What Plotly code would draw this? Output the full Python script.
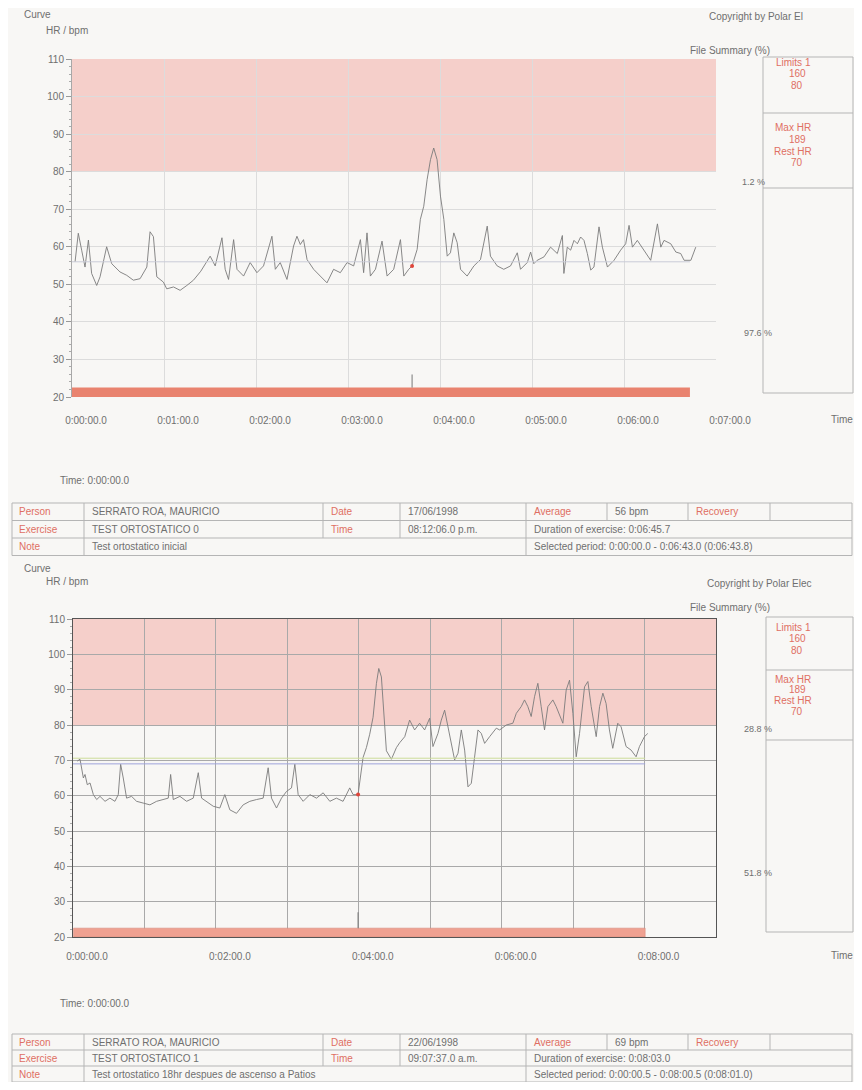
import plotly.graph_objects as go

REF_W, REF_H = 862, 1090
OFF = 8                      # the page body margin of the browser
W, H = REF_W - 2 * OFF, REF_H - 2 * OFF
FONT = "Liberation Sans, Arial, sans-serif"
GRAY = "#6f6f6f"
RED = "#df6f63"

# ---------------- data ----------------
# Chart 1: TEST ORTOSTATICO 0  (time in seconds, heart rate in bpm)
t1 = [2.0, 4.1, 6.3, 8.5, 10.7, 12.8, 16.1, 18.3, 22.6, 25.9, 31.3, 35.7, 40.0, 44.4, 48.8,
      50.9, 53.1, 55.3, 59.6, 61.8, 66.2, 70.5, 74.9, 79.2, 84.0, 90.1, 93.4, 97.8, 99.9,
      102.1, 105.4, 107.6, 111.9, 116.2, 120.6, 124.9, 130.4, 132.6, 135.8, 140.2, 144.5,
      146.7, 148.9, 151.0, 153.3, 157.6, 161.9, 166.3, 170.6, 175.0, 179.4, 183.7, 188.1,
      190.2, 192.4, 194.6, 197.9, 202.2, 205.5, 209.8, 214.2, 216.4, 219.6, 221.8, 225.1,
      227.2, 229.4, 231.6, 233.8, 235.9, 238.1, 240.3, 242.5, 244.7, 246.8, 249.0, 251.2,
      253.4, 257.7, 262.1, 266.4, 270.8, 272.9, 277.3, 281.6, 286.0, 290.4, 292.5, 296.9,
      299.1, 301.2, 303.4, 307.8, 312.1, 316.5, 319.8, 320.8, 323.0, 325.2, 327.4, 329.6,
      331.7, 333.9, 336.1, 338.3, 340.4, 343.7, 345.9, 349.2, 353.5, 357.8, 361.1, 363.3,
      365.5, 368.7, 373.1, 377.4, 381.8, 384.0, 386.1, 390.5, 393.8, 397.0, 399.2, 403.6,
      406.8]
hr1 = [56.0, 63.6, 59.1, 54.6, 61.8, 52.9, 49.7, 52.0, 60.0, 55.5, 53.3, 52.4, 51.1, 51.5, 54.6,
       64.0, 62.7, 52.0, 50.6, 48.8, 49.3, 48.4, 49.7, 51.1, 53.5, 57.5, 54.9, 62.4, 54.0,
       51.3, 61.9, 54.0, 52.2, 55.8, 53.1, 54.9, 62.8, 54.0, 55.8, 51.3, 60.2,
       62.8, 60.6, 61.9, 56.6, 54.0, 52.2, 50.4, 54.0, 53.1, 55.8, 54.9, 61.9,
       53.1, 63.7, 52.2, 54.0, 61.5, 52.2, 54.0, 61.9, 52.2, 54.0, 54.9, 59.3,
       67.3, 70.8, 77.9, 83.2, 86.3, 83.2, 73.5, 67.3, 57.5, 58.4, 63.7, 61.1,
       54.0, 52.2, 54.9, 56.6, 65.5, 57.5, 54.9, 54.0, 54.9, 58.4, 54.0, 55.8,
       58.6, 55.5, 56.4, 57.3, 59.9, 58.2, 63.0, 52.9, 59.9, 59.1, 61.7, 60.8,
       62.6, 61.7, 58.2, 53.8, 54.6, 65.3, 59.9, 54.6, 56.4, 59.1, 60.8, 65.7,
       59.9, 61.7, 59.1, 56.4, 66.1, 59.9, 61.7, 60.8, 58.6, 58.2, 56.4, 56.4,
       59.9]

# Chart 2: TEST ORTOSTATICO 1
t2 = [3.6, 5.9, 8.7, 10.1, 12.0, 14.3, 17.1, 19.9, 22.7, 26.9, 31.0, 35.2, 38.0, 40.0, 42.2,
      45.0, 49.2, 53.4, 59.0, 64.6, 70.2, 75.8, 80.0, 82.0, 84.2, 89.8, 95.4, 101.0, 105.2,
      108.0, 112.2, 117.8, 123.3, 127.5, 131.7, 137.3, 142.9, 148.5, 154.1, 159.7, 163.9,
      166.7, 170.9, 175.1, 179.3, 183.5, 186.3, 189.1, 193.3, 198.9, 204.5, 210.1, 215.7,
      221.2, 226.8, 232.4, 235.2, 239.4, 243.6, 246.4, 249.2, 252.0, 254.8, 256.8, 259.0,
      261.8, 263.2, 267.4, 271.6, 274.4, 278.6, 282.7, 286.9, 291.1, 295.3, 299.5, 302.3,
      306.5, 309.3, 312.1, 316.3, 320.5, 323.3, 326.1, 328.9, 331.7, 334.5, 337.3, 340.1,
      342.9, 345.7, 349.9, 355.5, 358.3, 363.9, 369.4, 372.3, 376.4, 379.2, 382.0, 384.8,
      387.6, 390.4, 393.2, 396.0, 398.8, 403.0, 405.8, 411.4, 414.2, 417.0, 419.8, 422.6,
      425.4, 429.6, 432.4, 435.2, 439.4, 442.2, 445.0, 447.7, 450.5, 453.3, 457.5, 460.3,
      464.5, 468.7, 472.9, 475.7, 479.9, 482.7]
hr2 = [69.8, 70.3, 65.0, 66.0, 63.1, 63.6, 60.3, 58.9, 59.8, 58.4, 59.3, 58.4, 60.3, 68.9, 65.0,
       59.3, 59.8, 58.4, 57.9, 57.4, 58.4, 58.9, 59.3, 66.0, 58.9, 59.8, 58.4, 59.3, 66.5,
       59.3, 58.4, 57.0, 56.5, 60.3, 56.0, 55.0, 57.4, 58.4, 58.9, 59.3, 67.9,
       59.3, 56.5, 59.3, 61.2, 62.2, 68.9, 60.3, 58.4, 60.3, 59.3, 60.8, 58.4,
       59.3, 58.4, 62.2, 60.3, 60.3, 70.8, 73.6, 77.4, 82.2, 91.7, 96.0, 93.6,
       81.2, 72.7, 70.3, 73.6, 75.0, 76.7, 81.4, 78.6, 80.5, 78.6, 81.9, 73.9,
       77.6, 81.4, 84.2, 76.7, 70.1, 72.0, 78.6, 72.9, 62.5, 63.5, 72.0, 78.6,
       77.6, 74.8, 76.7, 79.1, 78.6, 80.0, 80.5, 83.3, 85.2, 87.1, 85.2, 82.4,
       88.0, 91.8, 85.2, 78.6, 85.2, 87.1, 85.2, 80.5, 89.9, 92.7, 83.3, 71.0,
       77.6, 90.8, 92.3, 85.2, 76.7, 85.2, 89.0, 86.1, 78.6, 73.4, 80.5, 79.5,
       73.9, 72.9, 71.0, 73.9, 76.7, 77.6]

y_ticks = [20, 30, 40, 50, 60, 70, 80, 90, 100, 110]
x1_ticks = [0, 60, 120, 180, 240, 300, 360, 420]
x1_labels = ["0:00:00.0", "0:01:00.0", "0:02:00.0", "0:03:00.0",
             "0:04:00.0", "0:05:00.0", "0:06:00.0", "0:07:00.0"]
x2_ticks = [0, 60, 120, 180, 240, 300, 360, 420, 480, 540]
x2_labels = ["0:00:00.0", "", "0:02:00.0", "", "0:04:00.0", "", "0:06:00.0", "", "0:08:00.0", ""]

limit_low, limit_high = 80, 160
max_hr, rest_hr = 189, 70
avg1, avg2 = 56, 69
sel1 = (0.0, 403.0)
sel2 = (0.5, 480.5)
lap1, lap2 = 221.8, 239.4
pct1 = ["1.2 %", "97.6 %"]
pct2 = ["28.8 %", "51.8 %"]

table1 = dict(person="SERRATO ROA, MAURICIO", date="17/06/1998", average="56 bpm",
              exercise="TEST ORTOSTATICO 0", time="08:12:06.0 p.m.",
              duration="Duration of exercise: 0:06:45.7",
              note="Test ortostatico inicial",
              selected="Selected period: 0:00:00.0 - 0:06:43.0 (0:06:43.8)")
table2 = dict(person="SERRATO ROA, MAURICIO", date="22/06/1998", average="69 bpm",
              exercise="TEST ORTOSTATICO 1", time="09:07:37.0 a.m.",
              duration="Duration of exercise: 0:08:03.0",
              note="Test ortostatico 18hr despues de ascenso a Patios",
              selected="Selected period: 0:00:00.5 - 0:08:00.5 (0:08:01.0)")

# ---------------- helpers (reference pixels -> paper fractions) ----------------
def X(px):
    return (px - OFF) / W

def Y(py):
    return 1 - (py - OFF) / H

ann = []
shapes = []

def txt(s, x, y, size=10, color=GRAY, anchor="left"):
    ann.append(dict(text=s, x=X(x), y=Y(y), xref="paper", yref="paper", xanchor=anchor,
                    yanchor="middle", showarrow=False,
                    font=dict(size=size, color=color, family=FONT)))

def pline(x0, y0, x1, y1, color="#b5b5b5", width=1):
    shapes.append(dict(type="line", xref="paper", yref="paper", x0=X(x0), y0=Y(y0),
                       x1=X(x1), y1=Y(y1), line=dict(color=color, width=width)))

def prect(x0, y0, x1, y1, color="#b5b5b5", fill="rgba(0,0,0,0)", width=1):
    shapes.append(dict(type="rect", xref="paper", yref="paper", x0=X(x0), y0=Y(y0),
                       x1=X(x1), y1=Y(y1), line=dict(color=color, width=width), fillcolor=fill))

fig = go.Figure()

# ---------------- traces ----------------
fig.add_trace(go.Scatter(x=t1, y=hr1, mode="lines", line=dict(color="#7a7a7a", width=0.9),
                         xaxis="x", yaxis="y", showlegend=False, hoverinfo="skip"))
fig.add_trace(go.Scatter(x=t2, y=hr2, mode="lines", line=dict(color="#7a7a7a", width=0.9),
                         xaxis="x2", yaxis="y2", showlegend=False, hoverinfo="skip"))

i1 = min(range(len(t1)), key=lambda i: abs(t1[i] - lap1))
i2 = min(range(len(t2)), key=lambda i: abs(t2[i] - lap2))
fig.add_trace(go.Scatter(x=[t1[i1]], y=[hr1[i1]], mode="markers",
                         marker=dict(color="#e0453a", size=4), xaxis="x", yaxis="y",
                         showlegend=False, hoverinfo="skip"))
fig.add_trace(go.Scatter(x=[t2[i2]], y=[hr2[i2]], mode="markers",
                         marker=dict(color="#e0453a", size=4), xaxis="x2", yaxis="y2",
                         showlegend=False, hoverinfo="skip"))

# ---------------- data-space shapes ----------------
for xr, yr, xmax in (("x", "y", x1_ticks[-1]), ("x2", "y2", x2_ticks[-1])):
    shapes.append(dict(type="rect", xref=xr, yref=yr, x0=0, x1=xmax, y0=limit_low,
                       y1=min(limit_high, y_ticks[-1]), fillcolor="#f5cfca",
                       line=dict(width=0), layer="below"))

shapes.append(dict(type="rect", xref="x", yref="y", x0=sel1[0], x1=sel1[1], y0=20, y1=22.5,
                   fillcolor="#e9836f", line=dict(width=0)))
shapes.append(dict(type="rect", xref="x2", yref="y2", x0=sel2[0], x1=sel2[1], y0=20, y1=22.5,
                   fillcolor="#efa191", line=dict(color="#d98a7c", width=0.6)))

shapes.append(dict(type="line", xref="x", yref="y", x0=0, x1=sel1[1], y0=avg1, y1=avg1,
                   line=dict(color="#c9cbd8", width=1)))
shapes.append(dict(type="line", xref="x2", yref="y2", x0=0, x1=sel2[1], y0=avg2, y1=avg2,
                   line=dict(color="#9fa3dc", width=1)))
shapes.append(dict(type="line", xref="x2", yref="y2", x0=0, x1=sel2[1], y0=rest_hr + 0.6,
                   y1=rest_hr + 0.6, line=dict(color="#cddc9a", width=1)))

shapes.append(dict(type="line", xref="x", yref="y", x0=lap1, x1=lap1, y0=22.5, y1=26,
                   line=dict(color="#777", width=1)))
shapes.append(dict(type="line", xref="x2", yref="y2", x0=lap2, x1=lap2, y0=22.5, y1=27,
                   line=dict(color="#777", width=1)))

# ---------------- page text: chart 1 ----------------
txt("Curve", 22, 14, 10)
txt("HR / bpm", 44, 30, 10)
txt("Copyright by Polar El", 707, 17, 10)
txt("File Summary (%)", 688, 50, 10)
prect(763, 57, 853, 393)
pline(763, 113, 853, 113)
pline(763, 188, 853, 188)
txt("Limits 1", 793, 62, 10, RED, "center")
txt(str(limit_high), 797, 74, 10, RED, "center")
txt(str(limit_low), 797, 86, 10, RED, "center")
txt("Max HR", 793, 127, 10, RED, "center")
txt(str(max_hr), 797, 139, 10, RED, "center")
txt("Rest HR", 793, 151, 10, RED, "center")
txt(str(rest_hr), 797, 163, 10, RED, "center")
txt(pct1[0], 740, 182, 9)
txt(pct1[1], 742, 333, 9)
txt("Time", 829, 419, 10)
txt("Time: 0:00:00.0", 58, 480, 10)

# ---------------- page text: chart 2 ----------------
txt("Curve", 22, 568, 10)
txt("HR / bpm", 44, 581, 10)
txt("Copyright by Polar Elec", 705, 583, 10)
txt("File Summary (%)", 688, 607, 10)
prect(766, 617, 853, 932)
pline(766, 670, 853, 670)
pline(766, 740, 853, 740)
txt("Limits 1", 793, 627, 10, RED, "center")
txt(str(limit_high), 797, 638, 10, RED, "center")
txt(str(limit_low), 797, 650, 10, RED, "center")
txt("Max HR", 793, 679, 10, RED, "center")
txt(str(max_hr), 797, 689, 10, RED, "center")
txt("Rest HR", 793, 700, 10, RED, "center")
txt(str(rest_hr), 797, 711, 10, RED, "center")
txt(pct2[0], 742, 729, 9)
txt(pct2[1], 742, 873, 9)
txt("Time", 829, 955, 10)
txt("Time: 0:00:00.0", 58, 1003, 10)

# ---------------- tables ----------------
cols = [12, 84, 323, 400, 526, 607, 688, 770, 852]

def table(d, top, rh):
    r = [top, top + rh, top + 2 * rh, top + 3 * rh]
    for yy in r:
        pline(cols[0], yy, cols[-1], yy)
    for c in cols:
        pline(c, r[0], c, r[1])
    for c in (cols[0], cols[1], cols[2], cols[3], cols[4], cols[-1]):
        pline(c, r[1], c, r[2])
    for c in (cols[0], cols[1], cols[4], cols[-1]):
        pline(c, r[2], c, r[3])
    m = [r[0] + rh / 2, r[1] + rh / 2, r[2] + rh / 2]
    txt("Person", cols[0] + 5, m[0], 10, RED)
    txt(d["person"], cols[1] + 6, m[0], 10)
    txt("Date", cols[2] + 6, m[0], 10, RED)
    txt(d["date"], cols[3] + 6, m[0], 10)
    txt("Average", cols[4] + 6, m[0], 10, RED)
    txt(d["average"], cols[5] + 6, m[0], 10)
    txt("Recovery", cols[6] + 6, m[0], 10, RED)
    txt("Exercise", cols[0] + 5, m[1], 10, RED)
    txt(d["exercise"], cols[1] + 6, m[1], 10)
    txt("Time", cols[2] + 6, m[1], 10, RED)
    txt(d["time"], cols[3] + 6, m[1], 10)
    txt(d["duration"], cols[4] + 6, m[1], 10)
    txt("Note", cols[0] + 5, m[2], 10, RED)
    txt(d["note"], cols[1] + 6, m[2], 10)
    txt(d["selected"], cols[4] + 6, m[2], 10)

table(table1, 503, 17.5)
table(table2, 1034, 16)

# ---------------- axes ----------------
tickfont = dict(size=10, color=GRAY, family=FONT)

def xaxis(dom, rng, tv, tt, anchor, grid, line, standoff):
    return dict(domain=dom, range=rng, tickvals=tv, ticktext=tt, anchor=anchor,
                showgrid=True, gridcolor=grid, gridwidth=1, zeroline=False,
                showline=line is not None, linecolor=line or "#999", mirror=line is not None,
                ticks="", tickfont=tickfont, ticklabelshift=14, ticklabelstandoff=standoff,
                automargin=False, fixedrange=True)

def yaxis(dom, anchor, grid, line, mirror):
    return dict(domain=dom, range=[20, 110], tickvals=y_ticks, anchor=anchor,
                showgrid=True, gridcolor=grid, gridwidth=1, zeroline=False,
                showline=True, linecolor=line, mirror=mirror,
                ticks="outside", ticklen=5, tickcolor="#999", tickfont=tickfont,
                minor=dict(dtick=2, ticks="outside", ticklen=2, tickcolor="#aaa", showgrid=False),
                automargin=False, fixedrange=True)

fig.update_layout(
    width=W, height=H,
    margin=dict(l=0, r=0, t=0, b=0, pad=0, autoexpand=False),
    paper_bgcolor="#f8f7f5", plot_bgcolor="#f8f7f5",
    showlegend=False,
    xaxis=xaxis([X(72), X(716)], [0, x1_ticks[-1]], x1_ticks, x1_labels, "y", "#dcdcdc", None, 16),
    yaxis=yaxis([Y(397), Y(59)], "x", "#dcdcdc", "#a8a8a8", False),
    xaxis2=xaxis([X(73), X(716)], [0, x2_ticks[-1]], x2_ticks, x2_labels, "y2", "#a9a9a9", "#555", 10),
    yaxis2=yaxis([Y(937), Y(619)], "x2", "#a9a9a9", "#555", True),
    annotations=ann,
    shapes=shapes,
)

fig.write_html("out.html")
